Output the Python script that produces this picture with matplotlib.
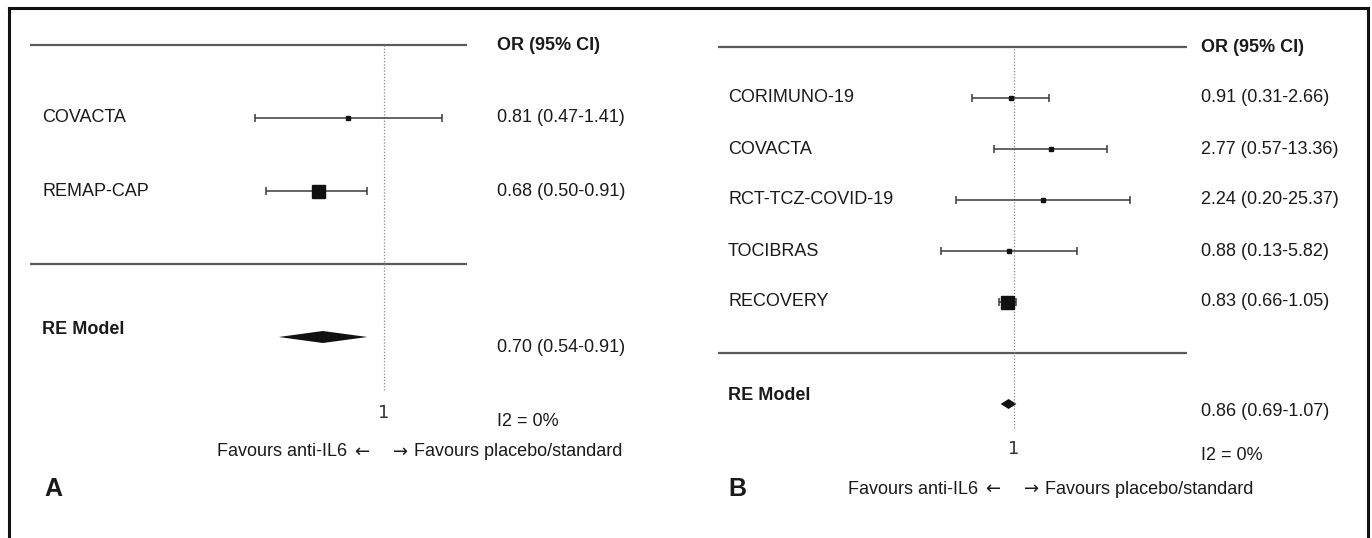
import numpy as np
import matplotlib
matplotlib.use('Agg')
import matplotlib.pyplot as plt
from matplotlib.lines import Line2D

plt.rcParams['font.family'] = ['Liberation Sans', 'DejaVu Sans']

# Panel A data
a_studies = ['COVACTA', 'REMAP-CAP']
a_or = [0.81, 0.68]
a_lo = [0.47, 0.50]
a_hi = [1.41, 0.91]
a_pooled = [0.70, 0.54, 0.91]
a_i2 = 'I2 = 0%'

# Panel B data
b_studies = ['CORIMUNO-19', 'COVACTA', 'RCT-TCZ-COVID-19', 'TOCIBRAS', 'RECOVERY']
b_or = [0.91, 2.77, 2.24, 0.88, 0.83]
b_lo = [0.31, 0.57, 0.20, 0.13, 0.66]
b_hi = [2.66, 13.36, 25.37, 5.82, 1.05]
b_pooled = [0.86, 0.69, 1.07]
b_i2 = 'I2 = 0%'

W, H = 1372, 538
fig = plt.figure(figsize=(W / 100, H / 100), dpi=100)
fig.patch.set_facecolor('white')

txt = '#1a1a1a'
fs = 13


def forest(ax, studies, est, lo, hi, pooled, i2, letter, cfg):
    k = len(studies)
    rows = np.arange(k, 0, -1)
    ax.set_xscale('log')
    ax.set_xlim(cfg['xlim'])
    ax.set_ylim(cfg['ylim'])
    ax.axis('off')
    yt = ax.get_yaxis_transform()

    # rules
    ax.hlines([k + 1, 0], cfg['line'][0], cfg['line'][1], transform=yt,
              color='#5a5a5a', lw=1.6)
    # reference line
    ax.vlines(1, cfg['vbot'], k + 1, color='#888888', lw=0.9, linestyles=(0, (1, 1.5)))

    # studies
    for r, name, e, l, h, bs in zip(rows, studies, est, lo, hi, cfg['box']):
        ax.errorbar(e, r, xerr=[[e - l], [h - e]], fmt='none', ecolor='#3a3a3a',
                    elinewidth=1.1, capsize=3.2, capthick=1.1)
        ax.plot(e, r, marker='s', ms=bs * 0.72, color='#111111', mec='#111111', ls='none')
        ax.text(cfg['lab_x'], r, name, transform=yt, ha='left', va='center',
                fontsize=fs, color=txt)
        ax.text(cfg['val_x'], r, f'{e:.2f} ({l:.2f}-{h:.2f})', transform=yt,
                ha='left', va='center', fontsize=fs, color=txt)

    ax.text(cfg['val_x'], k + 1, 'OR (95% CI)', transform=yt, ha='left', va='center',
            fontsize=fs, fontweight='bold', color=txt)

    # pooled diamond
    pe, pl, ph = pooled
    dh = cfg['dh']
    ax.fill([pl, pe, ph, pe], [-1, -1 + dh, -1, -1 - dh], color='#111111', lw=0)
    ax.text(cfg['lab_x'], -1 + cfg['re_off'], 'RE Model', transform=yt, ha='left',
            va='center', fontsize=fs, fontweight='bold', color=txt)
    ax.text(cfg['val_x'], -1 - cfg['val_off'], f'{pe:.2f} ({pl:.2f}-{ph:.2f})',
            transform=yt, ha='left', va='center', fontsize=fs, color=txt)

    # axis tick "1", heterogeneity, direction labels
    ax.text(1, cfg['one_y'], '1', ha='center', va='center', fontsize=fs,
            color='#333333', family='DejaVu Sans')
    ax.text(cfg['val_x'], cfg['i2_y'], i2, transform=yt, ha='left', va='center',
            fontsize=fs, color=txt)
    fy = cfg['fav_y']
    ax.annotate('\u2190', xy=(1, fy), xytext=(-10, 0), textcoords='offset points',
                ha='right', va='center', fontsize=fs, color=txt, family='DejaVu Sans')
    ax.annotate('Favours anti-IL6', xy=(1, fy), xytext=(-26, 0), textcoords='offset points',
                ha='right', va='center', fontsize=fs, color=txt)
    ax.annotate('\u2192', xy=(1, fy), xytext=(7, 0), textcoords='offset points',
                ha='left', va='center', fontsize=fs, color=txt, family='DejaVu Sans')
    ax.annotate('Favours placebo/standard', xy=(1, fy), xytext=(22, 0),
                textcoords='offset points', ha='left', va='center', fontsize=fs, color=txt)
    ax.text(cfg['let_x'], cfg['let_y'], letter, transform=yt, ha='left', va='center',
            fontsize=18, fontweight='bold', color=txt)


# panel A: x_px = 383.5 + 170*ln(OR), y_px = 264 - 73*row
axA = fig.add_axes([0, 0, 686 / W, 1])
cfgA = dict(xlim=(np.exp(-383.5 / 170), np.exp((686 - 383.5) / 170)),
            ylim=((264 - 538) / 73, 264 / 73),
            line=(30 / 686, 467 / 686), vbot=(264 - 390) / 73,
            box=[5, 13], lab_x=42 / 686, val_x=497 / 686,
            dh=6 / 73, re_off=8 / 73, val_off=11 / 73,
            one_y=(264 - 413) / 73, i2_y=(264 - 422) / 73, fav_y=(264 - 452) / 73,
            let_x=44 / 686, let_y=(264 - 489) / 73)
forest(axA, a_studies, a_or, a_lo, a_hi, a_pooled, a_i2, 'A', cfgA)

# panel B: x_px = 1014 + 36*ln(OR), y_px = 353 - 51*row
axB = fig.add_axes([686 / W, 0, 686 / W, 1])
cfgB = dict(xlim=(np.exp((686 - 1014) / 36), np.exp((1372 - 1014) / 36)),
            ylim=((353 - 538) / 51, 353 / 51),
            line=(32 / 686, 501 / 686), vbot=(353 - 428) / 51,
            box=[5, 5, 5, 5, 13], lab_x=42 / 686, val_x=515 / 686,
            dh=5 / 51, re_off=9 / 51, val_off=7 / 51,
            one_y=(353 - 449) / 51, i2_y=(353 - 455) / 51, fav_y=(353 - 489) / 51,
            let_x=42 / 686, let_y=(353 - 489) / 51)
forest(axB, b_studies, b_or, b_lo, b_hi, b_pooled, b_i2, 'B', cfgB)

# outer frame (top, left, right)
for xs, ys in [((9 / W, 1368 / W), (1 - 8 / H, 1 - 8 / H)),
               ((9 / W, 9 / W), (0, 1 - 8 / H)),
               ((1368 / W, 1368 / W), (0, 1 - 8 / H))]:
    fig.add_artist(Line2D(xs, ys, color='#111111', lw=2.2))

fig.savefig('out.png', dpi=100, facecolor='white')
